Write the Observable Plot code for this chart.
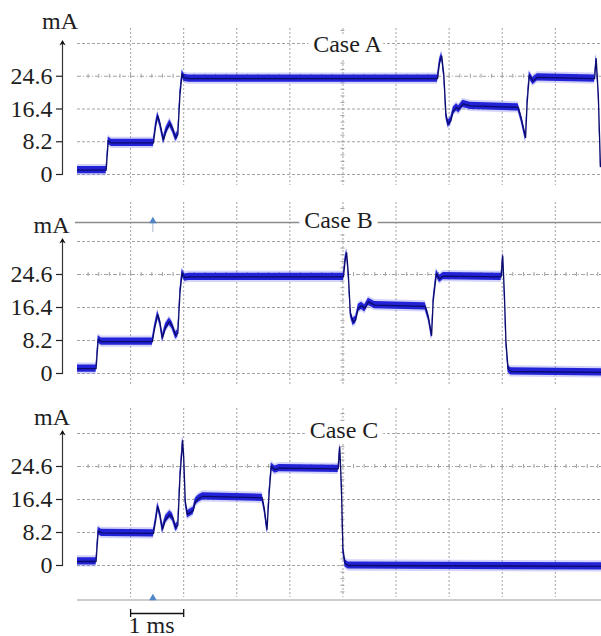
<!DOCTYPE html>
<html>
<head>
<meta charset="utf-8">
<script src="https://cdn.jsdelivr.net/npm/d3@7"></script>
<script src="https://cdn.jsdelivr.net/npm/@observablehq/plot@0.6"></script>
<style>
  html, body { margin: 0; padding: 0; background: #fff; }
  #chart { position: relative; width: 601px; height: 636px; overflow: hidden; font-family: "Liberation Serif", "Times New Roman", serif; }
  #chart svg { position: absolute; left: 0; overflow: visible; }
  #chart svg text { font-family: "Liberation Serif", "Times New Roman", serif; }
</style>
</head>
<body>
<div id="chart"></div>
<script>
// Current axis (mA): labelled ticks and the top graticule line
const yTicks = [0, 8.2, 16.4, 24.6];
const yTop = 32.8;
const yCenter = 24.6;          // scope centre line (carries minor ticks)
// Time axis (ms): one graticule division per millisecond
const timeGrid = [1, 2, 3, 4, 5, 6, 7, 8, 9];
const tCenter = 5;
const tMax = 9.87;
const triggerT = 1.42;
const scaleBar = [1, 2];
const scaleLabel = "1 ms";
const unitLabel = "mA";

// Measured current traces: [time (ms), current (mA)]
const caseA = [
  [0, 1.1], [0.54, 1.1], [0.58, 8.5], [0.64, 7.9], [1.43, 7.9], [1.47, 12], [1.51, 14.7],
  [1.55, 13], [1.62, 8.6], [1.67, 11], [1.74, 12.8], [1.79, 11.5], [1.85, 9.2], [1.89, 10],
  [1.93, 20], [1.97, 25.2], [2.01, 24.2], [2.1, 24.0], [6.78, 24.0], [6.82, 28], [6.86, 29.7],
  [6.9, 25], [6.94, 15], [6.98, 12.7], [7.03, 13.4], [7.08, 16], [7.14, 16.8], [7.18, 16.3],
  [7.26, 17.7], [7.4, 17.2], [8.3, 16.8], [8.36, 14], [8.44, 9.3], [8.47, 18], [8.51, 24.8],
  [8.58, 23.4], [8.66, 24.3], [9.74, 24.0], [9.77, 29], [9.81, 20], [9.85, 2]
];
const caseB = [
  [0, 1.2], [0.35, 1.2], [0.39, 8.5], [0.45, 7.9], [1.41, 7.9], [1.45, 11], [1.51, 14.6],
  [1.55, 13], [1.6, 8.8], [1.66, 11.5], [1.73, 12.9], [1.78, 12], [1.85, 9.5], [1.89, 10],
  [1.93, 20], [1.97, 25], [2.02, 23.8], [2.1, 24.0], [5.01, 24.0], [5.04, 28], [5.07, 30],
  [5.1, 25], [5.14, 15], [5.19, 12.8], [5.24, 13.3], [5.29, 16.3], [5.35, 16.8], [5.41, 16.2],
  [5.48, 17.8], [5.6, 17.0], [6.55, 16.7], [6.61, 14], [6.67, 9.5], [6.7, 18], [6.76, 24.8],
  [6.82, 23.5], [6.89, 24.2], [7.98, 24.0], [8.01, 29.2], [8.04, 20], [8.07, 8], [8.11, 1.2],
  [8.16, 0.5], [9.87, 0.3]
];
const caseC = [
  [0, 1.0], [0.35, 1.0], [0.39, 8.6], [0.45, 8.1], [1.43, 8.0], [1.47, 11], [1.51, 14.7],
  [1.55, 13], [1.6, 8.9], [1.66, 11.5], [1.74, 12.7], [1.79, 12], [1.85, 9.4], [1.89, 10],
  [1.93, 22], [1.98, 31], [2.0, 27], [2.03, 16], [2.07, 12.7], [2.13, 13.2], [2.18, 13.6],
  [2.22, 15.8], [2.28, 16.6], [2.36, 17.2], [3.48, 16.8], [3.52, 14], [3.57, 8.9], [3.61, 18],
  [3.65, 24.6], [3.72, 23.8], [3.8, 24.2], [4.91, 24.0], [4.94, 29.4], [4.97, 20], [5.0, 4],
  [5.04, 0.5], [5.1, 0], [9.87, -0.2]
];

// Panel placement (pixels inside each panel's own SVG)
const panels = [
  {name: "Case A", data: caseA, top: 0, height: 190, zero: 174, full: 43,
   gridUp: 15, gridDown: 11, unitDx: -2.5, unitDy: -14, titleDx: 15.5, titleDy: 9},
  {name: "Case B", data: caseB, top: 190, height: 200, zero: 183, full: 51,
   gridUp: 39, gridDown: 12, unitDx: -11, unitDy: -8, titleDx: 6.5, titleDy: -13,
   topLine: -19},
  {name: "Case C", data: caseC, top: 390, height: 246, zero: 175, full: 43,
   gridUp: 25, gridDown: 32, unitDx: -10.5, unitDy: -8, titleDx: 12, titleDy: 5,
   bottomLine: 34.5, scale: true}
];

const serif = '"Liberation Serif", "Times New Roman", serif';
const gridColor = "#a3a3a3";
const traceBand = "#2222d6";
const traceHalo = "#6e6ef0";
const traceCore = "#0b0b6a";
const markerColor = "#4f86c6";

const arrowHead = {
  draw(ctx) {
    ctx.moveTo(0, -2.5);
    ctx.lineTo(3.2, 3);
    ctx.lineTo(0, 1.2);
    ctx.lineTo(-3.2, 3);
    ctx.closePath();
  }
};

const T = d => d[0];
const V = d => d[1];
const minorT = d3.range(0.2, tMax, 0.2);

const chart = document.getElementById("chart");

for (const p of panels) {
  const pxPerUnit = (p.zero - p.full) / yTop;
  const lo = -p.gridDown / pxPerUnit;
  const hi = yTop + p.gridUp / pxPerUnit;
  const minorY = d3.range(-16.4, 50, 1.64).filter(v => v > lo + 0.3 && v < hi - 0.3);

  const marks = [
    // graticule
    Plot.ruleY([0, 8.2, 16.4, yTop], {x1: 0, x2: tMax, stroke: gridColor, strokeDasharray: "3,2"}),
    Plot.ruleY([yCenter], {x1: 0, x2: tMax, stroke: gridColor, strokeDasharray: "4,2,1,2"}),
    Plot.ruleX(minorT, {y1: yCenter, y2: yCenter, insetTop: -2, insetBottom: -2, stroke: gridColor}),
    Plot.ruleX(timeGrid, {y1: yTop, y2: 0, insetTop: -p.gridUp, insetBottom: -p.gridDown,
      stroke: gridColor, strokeDasharray: "2,2"}),
    Plot.ruleY(minorY, {x1: tCenter, x2: tCenter, insetLeft: -2, insetRight: -2, stroke: gridColor}),
    // y axis with arrow
    Plot.frame({anchor: "left", stroke: "#333", strokeWidth: 1.2}),
    Plot.dot([0], {frameAnchor: "top-left", symbol: arrowHead, r: 3, fill: "#111", stroke: null}),
    Plot.axisY(yTicks, {tickSize: 6, tickPadding: 4, fontSize: 24, fontFamily: serif,
      stroke: "#222", strokeWidth: 1.2, fill: "#1e1e1e",
      tickFormat: d => d === 0 ? "0" : d.toFixed(1)}),
    Plot.text([unitLabel], {frameAnchor: "top-left", text: d => d, dx: p.unitDx, dy: p.unitDy,
      textAnchor: "middle", lineAnchor: "bottom", fontSize: 24, fontFamily: serif, fill: "#1e1e1e"})
  ];

  if (p.topLine !== undefined) {
    marks.push(
      Plot.ruleY([yTop], {x1: 0, x2: tMax, dy: p.topLine, insetLeft: -2, stroke: "#8a8a8a", strokeWidth: 1.3}),
      Plot.ruleX([triggerT], {y1: yTop, y2: yTop, dy: p.topLine, insetBottom: -10, stroke: "#a9b8c8"}),
      Plot.dot([triggerT], {x: d => d, y: yTop, dy: p.topLine - 1.5, symbol: "triangle", r: 2.8, fill: markerColor})
    );
  }
  if (p.bottomLine !== undefined) {
    marks.push(
      Plot.ruleY([0], {x1: 0, x2: tMax, dy: p.bottomLine, stroke: "#bdbdbd", strokeWidth: 1.5}),
      Plot.dot([triggerT], {x: d => d, y: 0, dy: p.bottomLine - 2, symbol: "triangle", r: 2.8, fill: markerColor})
    );
  }

  // trace: noise band plus core line
  marks.push(
    Plot.areaY(p.data, {x: T, y1: d => V(d) - 1.4, y2: d => V(d) + 1.4, fill: traceHalo, fillOpacity: 0.3}),
    Plot.areaY(p.data, {x: T, y1: d => V(d) - 0.9, y2: d => V(d) + 0.9, fill: traceBand}),
    Plot.line(p.data, {x: T, y: V, stroke: traceCore, strokeWidth: 1.3})
  );

  // panel title over a white halo
  marks.push(
    Plot.text([p.name], {frameAnchor: "top", text: d => d, dx: p.titleDx, dy: p.titleDy,
      lineAnchor: "bottom", fontSize: 24, fontFamily: serif, fill: "#1e1e1e",
      stroke: "white", strokeWidth: 12, paintOrder: "stroke"})
  );

  if (p.scale) {
    marks.push(
      Plot.ruleY([0], {x1: scaleBar[0], x2: scaleBar[1], dy: 48, stroke: "#111", strokeWidth: 1.5}),
      Plot.ruleX(scaleBar, {y1: 0, y2: 0, insetTop: -4, insetBottom: -4, dy: 48, stroke: "#111", strokeWidth: 1.3}),
      Plot.text([scaleLabel], {x: scaleBar[0], y: 0, text: d => d, dx: -2, dy: 67,
        textAnchor: "start", lineAnchor: "bottom", fontSize: 24, fontFamily: serif, fill: "#1e1e1e"})
    );
  }

  const svg = Plot.plot({
    width: 601,
    height: p.height,
    marginLeft: 62,
    marginRight: 0,
    marginTop: p.full - 1,
    marginBottom: p.height - p.zero,
    x: {domain: [0, tMax], range: [77, 601], axis: null},
    y: {domain: [0, yTop], range: [p.zero, p.full], axis: null},
    style: {fontFamily: serif, fontSize: "24px", color: "#1e1e1e", background: "transparent", overflow: "visible"},
    marks
  });
  svg.style.top = p.top + "px";
  chart.appendChild(svg);
}
</script>
</body>
</html>
